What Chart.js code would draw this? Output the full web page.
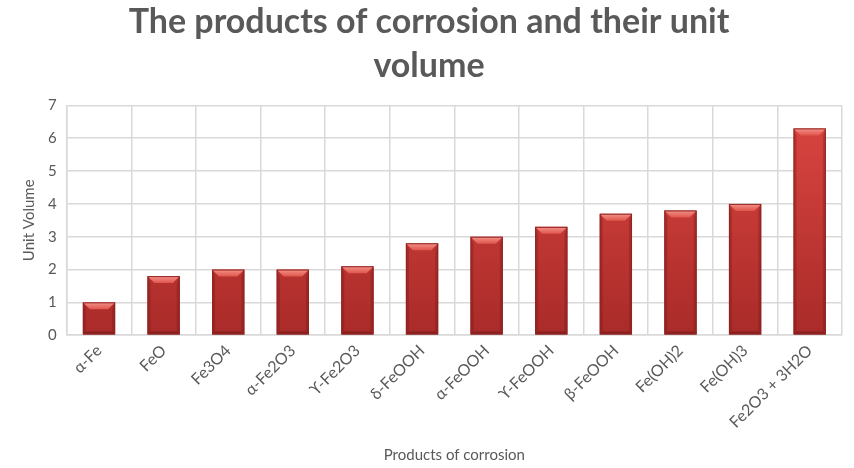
<!DOCTYPE html>
<html>
<head>
<meta charset="utf-8">
<script src="https://cdn.jsdelivr.net/npm/chart.js@4.4.0/dist/chart.umd.min.js"></script>
<style>
  html, body { margin: 0; padding: 0; background: #fff; }
  #wrap { width: 854px; height: 468px; }
</style>
</head>
<body>
<div id="wrap"><canvas id="grafico" width="854" height="468"></canvas></div>
<script>
// Dados do gráfico
const produtos = ['α-Fe', 'FeO', 'Fe3O4', 'α-Fe2O3', 'ϒ-Fe2O3', 'δ-FeOOH', 'α-FeOOH', 'ϒ-FeOOH', 'β-FeOOH', 'Fe(OH)2', 'Fe(OH)3', 'Fe2O3 + 3H2O'];
const volumeUnitario = [1, 1.8, 2, 2, 2.1, 2.8, 3, 3.3, 3.7, 3.8, 4, 6.3];
const ticksY = [0, 1, 2, 3, 4, 5, 6, 7];

const cinza = '#595959';
const fonte = 'Lato, "Open Sans", sans-serif';

// Plugin que desenha o efeito de bisel no topo de cada barra
const bisel = {
    id: 'bisel',
    afterDatasetsDraw(chart) {
        const c = chart.ctx;
        chart.getDatasetMeta(0).data.forEach(bar => {
            const w = bar.width, x0 = bar.x - w / 2, x1 = bar.x + w / 2;
            const top = bar.y, base = bar.base, h = 7;
            c.save();
            // tampa superior clara
            c.beginPath();
            c.moveTo(x0, top); c.lineTo(x1, top);
            c.lineTo(x1 - h, top + h); c.lineTo(x0 + h, top + h);
            c.closePath();
            const gt = c.createLinearGradient(0, top, 0, top + h);
            gt.addColorStop(0, '#f3938a');
            gt.addColorStop(1, '#e0554c');
            c.fillStyle = gt;
            c.fill();
            // laterais escuras
            c.fillStyle = 'rgba(110,20,20,0.3)';
            c.beginPath();
            c.moveTo(x0, top); c.lineTo(x0 + 3, top + h); c.lineTo(x0 + 3, base - 3); c.lineTo(x0, base);
            c.closePath();
            c.fill();
            c.beginPath();
            c.moveTo(x1, top); c.lineTo(x1 - 3, top + h); c.lineTo(x1 - 3, base - 3); c.lineTo(x1, base);
            c.closePath();
            c.fill();
            // base escura
            c.beginPath();
            c.moveTo(x0, base); c.lineTo(x1, base); c.lineTo(x1 - 3, base - 3); c.lineTo(x0 + 3, base - 3);
            c.closePath();
            c.fillStyle = 'rgba(90,15,15,0.4)';
            c.fill();
            c.strokeStyle = '#8f2523';
            c.lineWidth = 1;
            c.strokeRect(x0 + 0.5, top + 0.5, w - 1, base - top - 1);
            c.restore();
        });
    }
};

const ctx = document.getElementById('grafico').getContext('2d');

const grafico = new Chart(ctx, {
    type: 'bar',
    data: {
        labels: produtos,
        datasets: [{
            label: 'Unit Volume',
            data: volumeUnitario,
            backgroundColor: (context) => {
                const area = context.chart.chartArea;
                if (!area) return '#c0392b';
                const g = context.chart.ctx.createLinearGradient(0, area.top, 0, area.bottom);
                g.addColorStop(0, '#dc4641');
                g.addColorStop(1, '#a92b29');
                return g;
            },
            borderWidth: 0,
            barPercentage: 0.5,
            categoryPercentage: 1
        }]
    },
    options: {
        responsive: false,
        animation: false,
        layout: { padding: { left: 16, right: 12, top: 0, bottom: 0 } },
        plugins: {
            legend: { display: false },
            tooltip: { enabled: false },
            title: {
                display: true,
                text: ['The products of corrosion and their unit', 'volume'],
                color: cinza,
                font: { family: fonte, size: 34, weight: 'bold', lineHeight: 1.3 },
                padding: { top: 0, bottom: 17 }
            }
        },
        scales: {
            y: {
                min: 0,
                max: 7,
                afterBuildTicks: axis => { axis.ticks = ticksY.map(v => ({ value: v })); },
                ticks: { color: cinza, font: { family: fonte, size: 15 }, padding: 10 },
                grid: { color: '#d9d9d9', lineWidth: 1.5, drawTicks: false },
                border: { display: true, color: '#d9d9d9', width: 1.5 },
                title: {
                    display: true,
                    text: 'Unit Volume',
                    color: cinza,
                    font: { family: fonte, size: 15 },
                    padding: { bottom: 0 }
                }
            },
            x: {
                ticks: {
                    color: cinza,
                    font: { family: fonte, size: 16 },
                    minRotation: 45,
                    maxRotation: 45,
                    padding: 6
                },
                grid: { color: '#d9d9d9', lineWidth: 1.5, offset: true, drawTicks: false },
                border: { display: true, color: '#d9d9d9', width: 1.5 },
                title: {
                    display: true,
                    text: 'Products of corrosion',
                    color: cinza,
                    font: { family: fonte, size: 15 },
                    padding: { top: 8 }
                }
            }
        }
    },
    plugins: [bisel]
});
</script>
</body>
</html>
